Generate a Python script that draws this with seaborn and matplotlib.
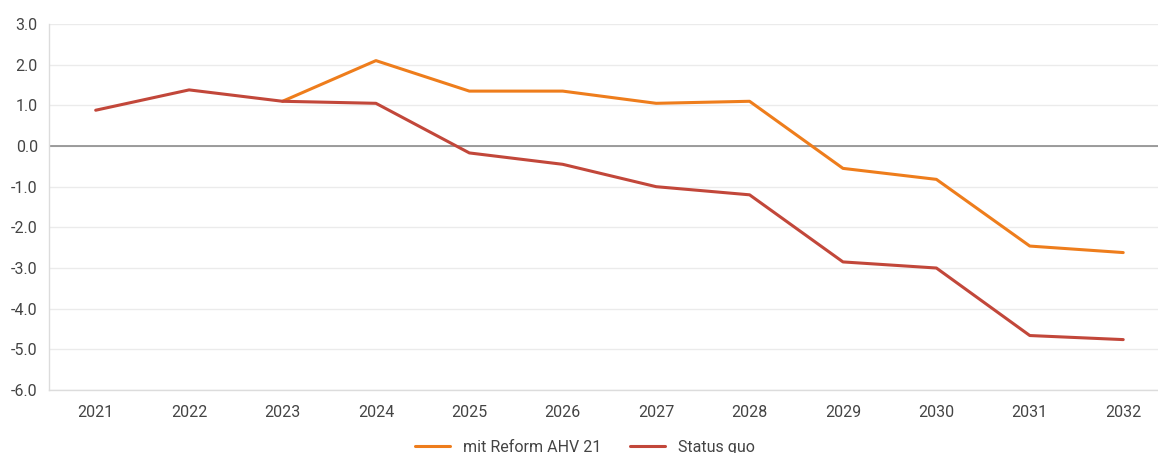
import matplotlib
matplotlib.use("Agg")
import matplotlib.pyplot as plt
import numpy as np
import pandas as pd
import seaborn as sns

years = [str(y) for y in range(2021, 2033)]
reform = [np.nan, np.nan, 1.1, 2.1, 1.35, 1.35, 1.05, 1.1, -0.55, -0.82, -2.46, -2.62]
status_quo = [0.88, 1.38, 1.1, 1.05, -0.17, -0.45, -1.0, -1.2, -2.85, -3.0, -4.66, -4.76]
series_names = ["mit Reform AHV 21", "Status quo"]
colors = ["#ee7d1c", "#c2473a"]

df = pd.DataFrame({
    "Jahr": years * 2,
    "Wert": reform + status_quo,
    "Serie": [series_names[0]] * len(years) + [series_names[1]] * len(years),
})

sns.set_style("white")
plt.rcParams["font.family"] = ["Roboto", "DejaVu Sans"]

fig = plt.figure(figsize=(11.58, 4.53), dpi=100)
# plot area runs slightly past the right edge, as in the original
ax = fig.add_axes([0.0423, 0.139, 0.968, 0.808])

sns.lineplot(data=df, x="Jahr", y="Wert", hue="Serie", palette=colors,
             linewidth=2.2, ax=ax, legend=False, sort=False)

ax.set_ylim(-6, 3)
ax.set_xlim(-0.5, len(years) - 0.5)
ax.set_yticks(np.arange(-6, 4, 1))
ax.set_yticklabels([f"{v:.1f}" for v in np.arange(-6, 4, 1)])
ax.set_xticks(range(len(years)))
ax.set_xticklabels(years)
ax.set_xticks(np.arange(0.5, len(years) - 0.5, 1), minor=True)

ax.grid(axis="y", color="#ebebeb", linewidth=1)
ax.set_axisbelow(True)
ax.axhline(0, color="#8c8c8c", linewidth=1.2, zorder=1.5)

for side in ["top", "right"]:
    ax.spines[side].set_visible(False)
for side in ["left", "bottom"]:
    ax.spines[side].set_color("#dcdcdc")
    ax.spines[side].set_linewidth(1)

ax.tick_params(axis="x", which="major", length=0, pad=11, labelsize=11.5, labelcolor="#444444")
ax.tick_params(axis="x", which="minor", length=6, width=1, color="#dcdcdc")
ax.tick_params(axis="y", length=0, pad=8, labelsize=11.5, labelcolor="#444444")
ax.set_xlabel("")
ax.set_ylabel("")

handles = [plt.Line2D([], [], color=c, linewidth=2.2) for c in colors]
fig.legend(handles, series_names, loc="center", bbox_to_anchor=(0.505, 0.013),
           ncol=2, frameon=False, fontsize=11.5, handlelength=2.2,
           columnspacing=1.8, labelcolor="#444444")

fig.savefig("out.png", dpi=100)
